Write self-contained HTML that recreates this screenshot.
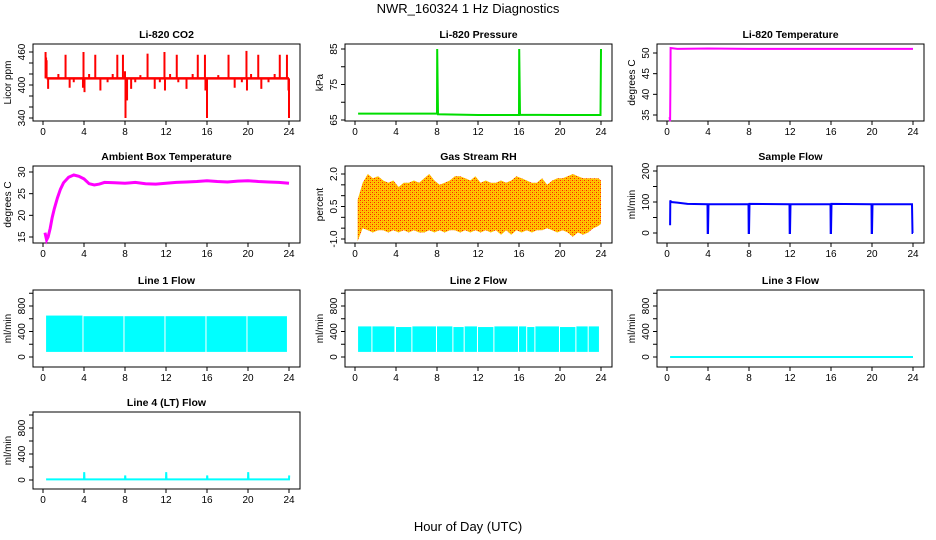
<!DOCTYPE html>
<html><head><meta charset="utf-8">
<style>
html,body{margin:0;padding:0;background:#fff;}
svg{display:block;font-family:"Liberation Sans",sans-serif;}
</style></head>
<body>
<svg id="chart" width="936" height="540" viewBox="0 0 936 540">
<defs>
<pattern id="rhpat" width="4" height="4" patternUnits="userSpaceOnUse">
<rect width="4" height="4" fill="#ffc400" shape-rendering="crispEdges"/>
<rect x="0" y="0" width="1" height="1" fill="#ff2000" shape-rendering="crispEdges"/>
<rect x="2" y="2" width="1" height="1" fill="#ff2000" shape-rendering="crispEdges"/>
<rect x="2" y="0" width="1" height="1" fill="#ff9000" shape-rendering="crispEdges"/>
<rect x="0" y="2" width="1" height="1" fill="#ff9000" shape-rendering="crispEdges"/>
</pattern>
</defs>
<text x="468" y="13" text-anchor="middle" font-size="13">NWR_160324  1 Hz Diagnostics</text>
<text x="468" y="531" text-anchor="middle" font-size="13">Hour of Day (UTC)</text>
</svg>
<script>
// ---- data ----
const xTicks = [0,4,8,12,16,20,24];
const co2Base = 412;
const co2SpikeHours = [0.25,0.3,0.35,0.5,1.5,2.2,2.6,3.0,3.9,3.95,4.05,4.5,5.1,5.6,6.3,6.8,7.25,7.8,8.0,8.05,8.2,8.6,9.0,9.5,10.2,10.9,11.4,11.85,11.9,12.4,13.05,13.2,14.0,14.6,15.1,15.8,15.85,16.0,17.1,18.1,18.7,19.4,19.85,19.9,20.3,21.0,21.3,22.0,22.6,23.1,23.8,23.95,24.0];
const co2SpikeVals = [460,450,445,393,420,455,395,405,395,460,387,420,455,390,405,420,455,455,425,340,372,393,405,418,457,393,405,460,390,420,455,405,393,420,455,455,390,340,418,455,395,405,462,390,420,455,393,405,420,455,455,390,340];
const presHours = [0.3,4,8,8.02,8.1,12,16,16.02,16.1,20,23.95,24];
const presVals = [66.8,66.8,66.8,85,66.6,66.4,66.4,85,66.5,66.4,66.4,85];
const tempHours = [0.25,0.3,0.33,0.35,1,4,8,12,16,20,24];
const tempVals = [34.5,33.5,42,51.2,51,51.1,51,51,51,51,51];
const ambHours = [0.2,0.35,0.5,0.7,0.9,1.1,1.4,1.7,2.0,2.5,3.0,3.5,4.0,4.5,5.0,5.5,6,7,8,9,10,11,12,13,14,15,16,17,18,19,20,21,22,23,24];
const ambVals = [16,14.3,15,17,19.5,21.5,24,26,27.5,28.8,29.3,29,28.4,27.3,27,27.2,27.6,27.5,27.4,27.6,27.3,27.2,27.4,27.6,27.7,27.8,28,27.8,27.7,27.9,28,27.8,27.7,27.6,27.4];
const rhHours = [0.25,0.75,1.25,1.75,2.25,2.75,3.25,3.75,4.25,4.75,5.25,5.75,6.25,6.75,7.25,7.75,8.25,8.75,9.25,9.75,10.25,10.75,11.25,11.75,12.25,12.75,13.25,13.75,14.25,14.75,15.25,15.75,16.25,16.75,17.25,17.75,18.25,18.75,19.25,19.75,20.25,20.75,21.25,21.75,22.25,22.75,23.25,23.75,24];
const rhHi = [0.8,1.6,2.0,1.8,1.9,1.7,1.6,1.7,1.4,1.6,1.6,1.7,1.6,1.8,2.0,1.7,1.5,1.6,1.7,1.9,1.9,1.8,1.7,1.9,1.6,1.7,1.6,1.6,1.7,1.6,1.7,1.9,1.8,1.7,1.6,1.6,1.8,1.5,1.7,1.8,1.8,1.9,2.0,1.9,1.8,1.8,1.8,1.8,1.7];
const rhLo = [-1.1,-0.5,-0.6,-0.7,-0.6,-0.6,-0.7,-0.6,-0.7,-0.6,-0.7,-0.6,-0.7,-0.7,-0.6,-0.7,-0.6,-0.7,-0.6,-0.6,-0.7,-0.6,-0.7,-0.6,-0.7,-0.6,-0.7,-0.6,-0.8,-0.6,-0.8,-0.6,-0.7,-0.6,-0.7,-0.6,-0.6,-0.5,-0.6,-0.7,-0.6,-0.7,-0.9,-0.7,-0.8,-0.7,-0.5,-0.4,-0.3];
const sfHours = [0.3,0.32,0.4,1,2,3.95,3.97,4.0,4.05,7.95,7.97,8.0,8.05,11.95,11.97,12.0,12.05,15.95,15.97,16.0,16.05,19.95,19.97,20.0,20.05,23.9,23.95,24];
const sfVals = [25,105,100,98,94,93,0,0,93,93,0,0,94,93,0,0,93,93,0,0,94,93,0,0,93,93,0,0];
const l1Start = [0.3,3.95,7.95,11.95,15.95,19.95];
const l1End = [3.85,7.85,11.85,15.85,19.85,23.8];
const l1Hi = [650,640,640,640,640,640];
const l1Lo = [80,80,80,80,80,80];
const l2Start = [0.3,1.7,4.0,5.6,8.0,9.6,10.7,12.0,13.6,16.0,16.8,17.6,20.0,21.6,22.8];
const l2End = [1.6,3.85,5.5,7.9,9.5,10.6,11.9,13.5,15.9,16.7,17.5,19.9,21.5,22.7,23.8];
const l2Hi = [480,480,470,480,480,470,480,470,480,480,470,480,470,480,480];
const l2Lo = [80,80,80,80,80,80,80,80,80,80,80,80,80,80,80];
const l3Hours = [0.3,24];
const l3Vals = [0,0];
const l4Hours = [0.3,4,4.02,4.05,8,8.02,8.05,12,12.02,12.05,16,16.02,16.05,20,20.02,20.05,24,24.02];
const l4Vals = [10,10,120,10,10,70,10,10,120,10,10,70,10,10,120,10,10,70];

const svg = document.getElementById('chart');
const NS = 'http://www.w3.org/2000/svg';
function mk(tag, attrs, parent){
  const e = document.createElementNS(NS, tag);
  for (const k in attrs) e.setAttribute(k, attrs[k]);
  (parent||svg).appendChild(e);
  return e;
}
const colL = [33,345,657];
const rowT = [44,166,290,412];
const W = 267, H = 77;

function panel(name, col, row, title, ylab, v0, p0, v1, p1, yticks, ylabels){
  const L = colL[col], T = rowT[row];
  const g = mk('g', {});
  
  
  const P = {g, L, T,
    x: h => L + 10 + h * 10.25,
    y: v => p0 + (v - v0) * (p1 - p0) / (v1 - v0)};
  const t = mk('text', {x: L + W/2, y: T - 6, 'text-anchor':'middle', 'font-size':10.5, 'font-weight':'bold'}, g);
  t.textContent = title;
  
  
  const box = mk('rect', {x:L, y:T, width:W, height:H, fill:'none', stroke:'#000', 'stroke-width':1}, g);
  
  
  const xa = mk('g', {}, g);
  
  
  mk('line', {x1:P.x(0), x2:P.x(24), y1:T+H, y2:T+H, stroke:'#000'}, xa);
  xTicks.forEach(v => {
    mk('line', {x1:P.x(v), x2:P.x(v), y1:T+H, y2:T+H+4, stroke:'#000'}, xa);
    const tl = mk('text', {x:P.x(v), y:T+H+14, 'text-anchor':'middle', 'font-size':10}, xa);
    tl.textContent = v;
  });
  const ya = mk('g', {}, g);
  
  
  const yv = yticks.map(P.y);
  mk('line', {x1:L, x2:L, y1:Math.min(...yv), y2:Math.max(...yv), stroke:'#000'}, ya);
  yticks.forEach(v => mk('line', {x1:L-4, x2:L, y1:P.y(v), y2:P.y(v), stroke:'#000'}, ya));
  ylabels.forEach(lb => {
    const yy = P.y(parseFloat(lb));
    const tl = mk('text', {x:L-8, y:yy, 'text-anchor':'middle', 'font-size':10, transform:`rotate(-90 ${L-8} ${yy})`}, ya);
    tl.textContent = lb;
  });
  const yt = mk('text', {x:L-22, y:T+H/2, 'text-anchor':'middle', 'font-size':10, transform:`rotate(-90 ${L-22} ${T+H/2})`}, g);
  yt.textContent = ylab;
  
  
  return P;
}
function line(P, name, hs, vs, color, w){
  const d = hs.map((h,i) => (i?'L':'M') + P.x(h).toFixed(1) + ' ' + P.y(vs[i]).toFixed(1)).join(' ');
  const p = mk('path', {d, fill:'none', stroke:color, 'stroke-width':w}, P.g);
  
  
  return p;
}
function bands(P, name, s, e, hi, lo, color){
  s.forEach((h,i) => {
    const r = mk('rect', {x:P.x(h), y:P.y(hi[i]), width:P.x(e[i]) - P.x(h), height:P.y(lo[i]) - P.y(hi[i]), fill:color}, P.g);
    
    
  });
}

let P = panel('co2', 0, 0, 'Li-820 CO2', 'Licor ppm', 460, 52, 340, 118, [340,360,380,400,420,440,460], ['340','400','460']);
line(P, 'co2-baseline', [0.35,24], [co2Base,co2Base], '#ff0000', 2.5);
co2SpikeHours.forEach((h,i) => {
  const s = mk('line', {x1:P.x(h), x2:P.x(h), y1:P.y(co2Base), y2:P.y(co2SpikeVals[i]), stroke:'#ff0000', 'stroke-width':2}, P.g);
  
  
});
P = panel('pressure', 1, 0, 'Li-820 Pressure', 'kPa', 85, 49, 65, 120, [65,70,75,80,85], ['65','75','85']);
line(P, 'pressure-line', presHours, presVals, '#00dd00', 2);
P = panel('li820-temp', 2, 0, 'Li-820 Temperature', 'degrees C', 50, 53, 35, 115, [35,40,45,50], ['35','40','45','50']);
line(P, 'li820-temp-line', tempHours, tempVals, '#ff00ff', 2);
P = panel('ambient-temp', 0, 1, 'Ambient Box Temperature', 'degrees C', 30, 172, 15, 237, [15,20,25,30], ['15','20','25','30']);
line(P, 'ambient-temp-line', ambHours, ambVals, '#ff00ff', 3);
P = panel('gas-rh', 1, 1, 'Gas Stream RH', 'percent', 2.0, 174, -1.0, 239, [-1,-0.5,0,0.5,1,1.5,2], ['-1.0','0.5','2.0']);
{
  let d = rhHours.map((h,i) => (i?'L':'M') + P.x(h).toFixed(1) + ' ' + P.y(rhHi[i]).toFixed(1)).join(' ');
  for (let i = rhHours.length - 1; i >= 0; i--) d += ' L' + P.x(rhHours[i]).toFixed(1) + ' ' + P.y(rhLo[i]).toFixed(1);
  const p = mk('path', {d: d + ' Z', fill:'url(#rhpat)'}, P.g);
  
  
}
P = panel('sample-flow', 2, 1, 'Sample Flow', 'ml/min', 200, 171, 0, 233, [0,50,100,150,200], ['0','100','200']);
line(P, 'sample-flow-line', sfHours, sfVals, '#0000ff', 2);
P = panel('line1-flow', 0, 2, 'Line 1 Flow', 'ml/min', 800, 306, 0, 357, [0,200,400,600,800,1000], ['0','400','800']);
bands(P, 'line1-flow-band', l1Start, l1End, l1Hi, l1Lo, '#00ffff');
P = panel('line2-flow', 1, 2, 'Line 2 Flow', 'ml/min', 800, 306, 0, 357, [0,200,400,600,800,1000], ['0','400','800']);
bands(P, 'line2-flow-band', l2Start, l2End, l2Hi, l2Lo, '#00ffff');
P = panel('line3-flow', 2, 2, 'Line 3 Flow', 'ml/min', 800, 306, 0, 357, [0,200,400,600,800,1000], ['0','400','800']);
line(P, 'line3-flow-line', l3Hours, l3Vals, '#00ffff', 2);
P = panel('line4-flow', 0, 3, 'Line 4 (LT) Flow', 'ml/min', 800, 428, 0, 480, [0,200,400,600,800,1000], ['0','400','800']);
line(P, 'line4-flow-line', l4Hours, l4Vals, '#00ffff', 2);
</script>
</body></html>
